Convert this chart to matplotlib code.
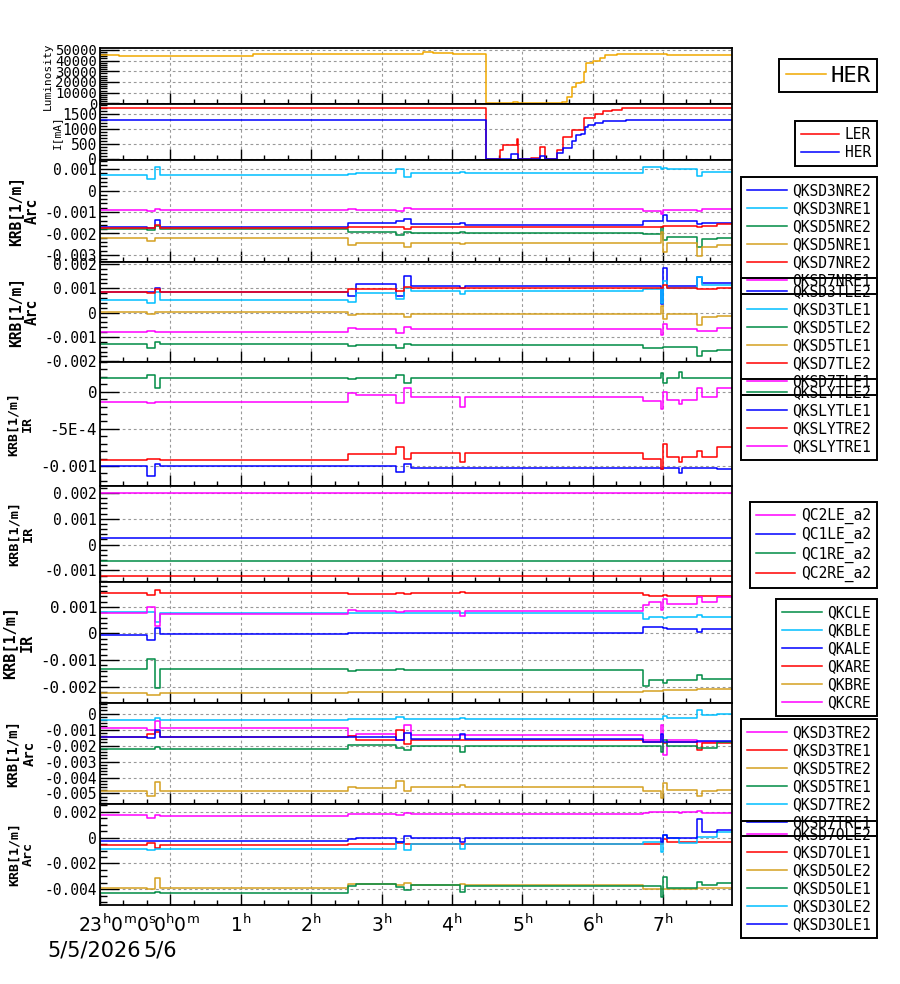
import numpy as np
import matplotlib
matplotlib.use("Agg")
import matplotlib.pyplot as plt
from matplotlib.ticker import AutoMinorLocator, FixedLocator, MultipleLocator
from matplotlib.transforms import blended_transform_factory

plt.rcParams["font.family"] = ["DejaVu Sans Mono"]
plt.rcParams["mathtext.fontset"] = "dejavusans"

# =========================
# DATA  (time: hours from 5/6 0:00, negative = 5/5)
# =========================
T0, T1 = -1.0, 7.98

# luminosity / beam currents
lum_t = [-1.0, -0.73, 1.17, 1.84, 3.59, 3.73, 4.02, 4.48, 4.87, 4.94, 5.56, 5.63, 5.70,
         5.77, 5.84, 5.87, 5.91, 6.01, 6.10, 6.17, 6.34, 6.91, 7.05, 7.98]
lum_v = [45500, 44000, 46000, 46200, 47800, 47100, 46500, 0, 1000, 0, 1500, 6000, 15700,
         18900, 20000, 29800, 37700, 39600, 42500, 45600, 46500, 46000, 45000, 45000]

ler_t = [-1.0, 4.48, 4.68, 4.72, 4.92, 4.94, 5.13, 5.25, 5.32, 5.49, 5.58, 5.70, 5.87,
         6.03, 6.15, 6.27, 6.41, 7.98]
ler_v = [1689, 0, 300, 470, 660, 0, 50, 417, 0, 300, 740, 985, 1382, 1490, 1600, 1623,
         1689, 1689]
her_t = [-1.0, 4.48, 4.84, 4.94, 5.25, 5.32, 5.49, 5.58, 5.70, 5.77, 5.84, 5.89, 5.94,
         6.03, 6.15, 6.48, 7.98]
her_v = [1291, 0, 160, 0, 100, 0, 200, 380, 600, 790, 820, 1075, 1150, 1200, 1260, 1291,
         1291]

# common change times of the skew-quad settings
krb_t = [-1.0, -0.33, -0.22, -0.15, 2.52, 2.64, 3.21, 3.32, 3.42, 4.11, 4.18, 6.72, 6.80,
         6.97, 7.00, 7.06, 7.22, 7.27, 7.48, 7.55, 7.76, 7.98]

# KRB values below in units of 1e-3 [1/m]
QKSD3NRE2 = [-1.68, -1.75, -1.37, -1.68, -1.49, -1.52, -1.40, -1.34, -1.55, -1.50, -1.60,
             -1.40, -1.40, -1.40, -1.13, -1.42, -1.42, -1.42, -1.55, -1.52, -1.52, -1.52]
QKSD3NRE1 = [0.72, 0.55, 1.12, 0.72, 0.79, 0.83, 1.00, 0.62, 0.83, 0.88, 0.83,
             1.08, 1.08, 1.00, 1.05, 1.03, 1.03, 1.03, 0.70, 0.87, 0.87, 0.87]
QKSD5NRE2 = [-1.78, -1.85, -1.65, -1.78, -1.92, -1.92, -2.07, -1.95, -1.97, -1.95, -2.00,
             -2.02, -2.02, -1.72, -2.32, -2.16, -2.16, -2.16, -2.63, -2.25, -2.20, -2.20]
QKSD5NRE1 = [-2.23, -2.36, -2.23, -2.23, -2.55, -2.43, -2.43, -2.65, -2.43, -2.50, -2.43,
             -2.43, -2.43, -1.92, -2.86, -2.43, -2.43, -2.43, -3.05, -2.65, -2.56, -2.56]
QKSD7NRE2 = [-1.73, -1.73, -1.60, -1.73, -1.72, -1.70, -1.70, -1.78, -1.70, -1.70, -1.70,
             -1.70, -1.70, -1.70, -1.66, -1.66, -1.66, -1.66, -1.71, -1.64, -1.58, -1.58]
QKSD7NRE1 = [-0.91, -0.96, -0.88, -0.91, -0.87, -0.90, -0.95, -0.79, -0.87, -0.87, -0.87,
             -0.95, -0.95, -1.08, -0.89, -0.89, -0.89, -0.89, -0.95, -0.87, -0.87, -0.87]

QKSD3TLE2 = [0.84, 0.84, 1.03, 0.84, 0.69, 1.18, 0.68, 1.52, 1.10, 1.02, 1.08,
             1.08, 1.08, 0.37, 1.82, 1.08, 1.08, 1.08, 1.45, 1.20, 1.20, 1.20]
QKSD3TLE1 = [0.50, 0.40, 0.86, 0.50, 0.45, 0.82, 0.55, 1.00, 0.90, 0.75, 0.90,
             0.96, 0.96, 0.40, 1.30, 1.00, 1.00, 1.00, 1.45, 1.12, 1.12, 1.12]
QKSD5TLE2 = [-1.27, -1.47, -1.20, -1.27, -1.38, -1.35, -1.44, -1.27, -1.33, -1.33, -1.33,
             -1.44, -1.44, -1.44, -1.42, -1.42, -1.42, -1.42, -1.79, -1.56, -1.55, -1.55]
QKSD5TLE1 = [0.02, -0.04, 0.02, 0.02, -0.08, -0.04, -0.04, -0.20, -0.05, -0.05, -0.05,
             -0.05, -0.05, 0.26, -0.26, -0.05, -0.05, -0.05, -0.49, -0.20, -0.14, -0.14]
QKSD7TLE2 = [0.84, 0.80, 0.95, 0.84, 0.96, 0.96, 0.90, 1.05, 1.00, 1.00, 1.00,
             1.03, 1.03, 1.03, 1.12, 1.00, 1.00, 1.00, 0.95, 0.95, 1.03, 1.03]
QKSD7TLE1 = [-0.79, -0.76, -0.79, -0.79, -0.62, -0.67, -0.85, -0.60, -0.69, -0.69, -0.69,
             -0.69, -0.69, -0.94, -0.46, -0.69, -0.69, -0.69, -0.75, -0.75, -0.65, -0.65]

QKSLYTLE2 = [0.18, 0.23, 0.05, 0.18, 0.17, 0.18, 0.22, 0.12, 0.18, 0.18, 0.18,
             0.18, 0.18, 0.25, 0.12, 0.18, 0.27, 0.18, 0.18, 0.18, 0.18, 0.18]
QKSLYTLE1 = [-1.00, -1.13, -0.98, -1.00, -1.00, -1.00, -1.08, -0.97, -1.03, -1.03, -1.03,
             -1.03, -1.03, -1.04, -1.03, -1.03, -1.10, -1.03, -1.03, -1.03, -1.04, -1.04]
QKSLYTRE2 = [-0.92, -0.90, -0.90, -0.92, -0.84, -0.84, -0.74, -0.90, -0.83, -0.95, -0.83,
             -0.90, -0.90, -1.04, -0.71, -0.88, -0.95, -0.88, -0.80, -0.88, -0.74, -0.74]
QKSLYTRE1 = [-0.134, -0.15, -0.14, -0.134, -0.02, -0.045, -0.15, 0.045, -0.075, -0.20,
             -0.075, -0.12, -0.12, -0.23, -0.01, -0.11, -0.16, -0.11, 0.045, -0.07, 0.045,
             0.045]

qc_t = [-1.0, 7.98]
QC2LE_a2 = [2.01, 2.01]
QC1LE_a2 = [0.26, 0.26]
QC1RE_a2 = [-0.65, -0.65]
QC2RE_a2 = [-1.22, -1.22]

QKCLE = [-1.32, -0.98, -2.07, -1.32, -1.41, -1.38, -1.35, -1.38, -1.38, -1.38, -1.38,
         -1.99, -1.74, -1.74, -1.86, -1.74, -1.74, -1.74, -1.55, -1.70, -1.72, -1.72]
QKBLE = [0.80, 0.80, 0.42, 0.78, 0.78, 0.78, 0.78, 0.78, 0.78, 0.78, 0.78,
         0.53, 0.63, 0.63, 0.57, 0.63, 0.63, 0.63, 0.68, 0.63, 0.63, 0.63]
QKALE = [-0.04, -0.23, 0.21, -0.03, 0.00, 0.00, 0.00, 0.00, 0.00, 0.00, 0.00,
         0.25, 0.25, 0.25, 0.19, 0.15, 0.15, 0.15, 0.06, 0.15, 0.15, 0.15]
QKARE = [1.51, 1.45, 1.64, 1.51, 1.47, 1.47, 1.51, 1.47, 1.51, 1.55, 1.51,
         1.45, 1.42, 1.42, 1.45, 1.42, 1.42, 1.42, 1.41, 1.41, 1.41, 1.39]
QKBRE = [-2.26, -2.32, -2.30, -2.26, -2.22, -2.22, -2.22, -2.22, -2.22, -2.22, -2.22,
         -2.16, -2.16, -2.16, -2.14, -2.14, -2.14, -2.14, -2.11, -2.11, -2.11, -2.11]
QKCRE = [0.78, 1.00, 0.28, 0.75, 0.88, 0.85, 0.81, 0.85, 0.85, 0.66, 0.85,
         1.07, 1.20, 0.88, 1.30, 1.12, 1.12, 1.12, 1.37, 1.18, 1.37, 1.27]

QKSD3TRE2 = [-0.88, -1.00, -0.47, -0.88, -1.40, -1.26, -1.68, -0.71, -1.36, -1.36, -1.36,
             -1.68, -1.68, -0.73, -2.56, -1.68, -1.68, -1.68, -1.80, -1.75, -1.75, -1.75]
QKSD3TRE1 = [-1.45, -1.30, -1.13, -1.45, -1.40, -1.68, -1.05, -1.89, -1.64, -1.64, -1.64,
             -1.75, -1.75, -1.75, -1.81, -1.78, -1.78, -1.78, -2.30, -1.81, -1.81, -1.81]
QKSD5TRE2 = [-4.82, -5.13, -4.30, -4.82, -4.57, -4.65, -4.23, -4.86, -4.61, -4.45, -4.61,
             -4.82, -4.82, -5.28, -4.32, -4.78, -4.78, -4.78, -5.13, -4.86, -4.78, -4.78]
QKSD5TRE1 = [-2.23, -2.23, -2.06, -2.23, -1.97, -1.97, -2.12, -2.25, -2.02, -2.43, -2.02,
             -2.02, -2.02, -2.43, -1.66, -2.02, -2.02, -2.02, -2.12, -2.12, -1.80, -1.80]
QKSD7TRE2 = [-0.40, -0.40, -0.30, -0.40, -0.31, -0.31, -0.21, -0.31, -0.31, -0.25, -0.31,
             -0.31, -0.31, -0.31, -0.14, -0.27, -0.27, -0.27, 0.21, -0.10, -0.04, -0.04]
QKSD7TRE1 = [-1.43, -1.50, -1.00, -1.43, -1.43, -1.43, -1.64, -1.22, -1.57, -1.26, -1.57,
             -1.78, -1.78, -1.26, -1.78, -1.78, -1.78, -1.78, -1.72, -1.72, -1.72, -1.72]

QKSD7OLE2 = [1.76, 1.50, 1.76, 1.71, 1.81, 1.81, 1.76, 1.88, 1.84, 1.84, 1.84,
             1.88, 1.99, 1.99, 1.99, 1.99, 1.94, 1.99, 2.10, 1.94, 1.94, 1.94]
QKSD7OLE1 = [-0.55, -0.45, -0.83, -0.55, -0.51, -0.51, -0.45, -0.47, -0.47, -0.47, -0.47,
             -0.47, -0.47, -0.47, -0.10, -0.31, -0.31, -0.31, -0.31, -0.31, -0.31, -0.31]
QKSD5OLE2 = [-3.88, -3.95, -3.15, -3.88, -3.62, -3.62, -3.68, -3.55, -3.68, -3.62, -3.68,
             -4.00, -3.98, -3.98, -3.98, -3.98, -3.98, -3.98, -3.93, -3.93, -3.93, -3.93]
QKSD5OLE1 = [-4.31, -4.31, -4.20, -4.31, -3.75, -3.62, -3.80, -4.06, -3.68, -4.20, -3.75,
             -3.75, -3.75, -4.62, -3.03, -3.93, -3.93, -3.93, -3.41, -3.68, -3.50, -3.50]
QKSD3OLE2 = [-0.88, -0.95, -0.88, -0.88, -0.90, -0.88, -0.31, -0.93, -0.47, -0.85, -0.47,
             -0.31, -0.31, -1.08, 0.21, -0.05, -0.38, -0.38, 0.08, 0.08, 0.41, 0.41]
QKSD3OLE1 = [-0.23, -0.23, -0.23, -0.23, -0.08, -0.05, -0.31, 0.16, -0.05, -0.31, -0.05,
             0.00, 0.00, -0.31, 0.21, 0.00, 0.00, 0.00, 1.43, 0.47, 0.60, 0.60]

# x axis labels
hour_ticks = [-1, 0, 1, 2, 3, 4, 5, 6, 7]
hour_labels = [r"$23^{\rm h}0^{\rm m}0^{\rm s}$", r"$0^{\rm h}0^{\rm m}$", r"$1^{\rm h}$",
               r"$2^{\rm h}$", r"$3^{\rm h}$", r"$4^{\rm h}$", r"$5^{\rm h}$",
               r"$6^{\rm h}$", r"$7^{\rm h}$"]
date_labels = ["5/5/2026", "5/6"]

# =========================
# STYLE
# =========================
BLUE, CYAN, GREEN = "#0000ff", "#00bfff", "#008b45"
GOLD, RED, MAG = "#d4a020", "#ff0000", "#ff00ff"
LUMC = "#f0a800"

K = 1e-3
panels = [
    dict(px=(48, 104), ylim=(-600, 51800),
         yt=[0, 10000, 20000, 30000, 40000, 50000],
         ytl=["0", "10000", "20000", "30000", "40000", "50000"],
         ylab="Luminosity", ylx=48, yls=8, bold=False, tfs=10,
         series=[("HER", lum_t, lum_v, LUMC, 1)], lfs=16, lhl=1.8, ltop=59,
         lbp=0.3, ltp=0.2),
    dict(px=(104, 160), ylim=(-25, 1830), yt=[0, 500, 1000, 1500],
         ytl=["0", "500", "1000", "1500"],
         ylab="I[mA]", ylx=57, yls=8, bold=False, tfs=10.5,
         series=[("LER", ler_t, ler_v, RED, 1), ("HER", her_t, her_v, BLUE, 1)],
         lfs=10.5, lhl=2.6, ltop=121),
    dict(px=(160, 262), ylim=(-3.33e-3, 1.43e-3),
         yt=[1e-3, 0, -1e-3, -2e-3, -3e-3],
         ytl=["0.001", "0", "-0.001", "-0.002", "-0.003"],
         ylab="KRB[1/m]\nArc", ylx=24, yls=10.5, bold=True, tfs=10.5,
         series=[("QKSD3NRE2", krb_t, QKSD3NRE2, BLUE, K),
                 ("QKSD3NRE1", krb_t, QKSD3NRE1, CYAN, K),
                 ("QKSD5NRE2", krb_t, QKSD5NRE2, GREEN, K),
                 ("QKSD5NRE1", krb_t, QKSD5NRE1, GOLD, K),
                 ("QKSD7NRE2", krb_t, QKSD7NRE2, RED, K),
                 ("QKSD7NRE1", krb_t, QKSD7NRE1, MAG, K)],
         lfs=10.5, lhl=2.7, ltop=177),
    dict(px=(262, 362), ylim=(-2.03e-3, 2.08e-3),
         yt=[2e-3, 1e-3, 0, -1e-3, -2e-3],
         ytl=["0.002", "0.001", "0", "-0.001", "-0.002"],
         ylab="KRB[1/m]\nArc", ylx=24, yls=10.5, bold=True, tfs=10.5,
         series=[("QKSD3TLE2", krb_t, QKSD3TLE2, BLUE, K),
                 ("QKSD3TLE1", krb_t, QKSD3TLE1, CYAN, K),
                 ("QKSD5TLE2", krb_t, QKSD5TLE2, GREEN, K),
                 ("QKSD5TLE1", krb_t, QKSD5TLE1, GOLD, K),
                 ("QKSD7TLE2", krb_t, QKSD7TLE2, RED, K),
                 ("QKSD7TLE1", krb_t, QKSD7TLE1, MAG, K)],
         lfs=10.5, lhl=2.7, ltop=278),
    dict(px=(362, 486), ylim=(-1.27e-3, 0.40e-3),
         yt=[0, -5e-4, -1e-3], ytl=["0", "-5E-4", "-0.001"],
         ylab="KRB[1/m]\nIR", ylx=20, yls=9.5, bold=True, tfs=11.4,
         series=[("QKSLYTLE2", krb_t, QKSLYTLE2, GREEN, K),
                 ("QKSLYTLE1", krb_t, QKSLYTLE1, BLUE, K),
                 ("QKSLYTRE2", krb_t, QKSLYTRE2, RED, K),
                 ("QKSLYTRE1", krb_t, QKSLYTRE1, MAG, K)],
         lfs=10.5, lhl=2.7, ltop=379),
    dict(px=(486, 582), ylim=(-1.45e-3, 2.27e-3),
         yt=[2e-3, 1e-3, 0, -1e-3], ytl=["0.002", "0.001", "0", "-0.001"],
         ylab="KRB[1/m]\nIR", ylx=21, yls=9.7, bold=True, tfs=10.5,
         series=[("QC2LE_a2", qc_t, QC2LE_a2, MAG, K),
                 ("QC1LE_a2", qc_t, QC1LE_a2, BLUE, K),
                 ("QC1RE_a2", qc_t, QC1RE_a2, GREEN, K),
                 ("QC2RE_a2", qc_t, QC2RE_a2, RED, K)],
         lfs=10.5, lhl=2.7, ltop=502),
    dict(px=(582, 703), ylim=(-2.62e-3, 1.94e-3),
         yt=[1e-3, 0, -1e-3, -2e-3], ytl=["0.001", "0", "-0.001", "-0.002"],
         ylab="KRB[1/m]\nIR", ylx=18.5, yls=10.9, bold=True, tfs=11.4,
         series=[("QKCLE", krb_t, QKCLE, GREEN, K),
                 ("QKBLE", krb_t, QKBLE, CYAN, K),
                 ("QKALE", krb_t, QKALE, BLUE, K),
                 ("QKARE", krb_t, QKARE, RED, K),
                 ("QKBRE", krb_t, QKBRE, GOLD, K),
                 ("QKCRE", krb_t, QKCRE, MAG, K)],
         lfs=10.5, lhl=2.7, ltop=599),
    dict(px=(703, 804), ylim=(-5.66e-3, 0.67e-3),
         yt=[0, -1e-3, -2e-3, -3e-3, -4e-3, -5e-3],
         ytl=["0", "-0.001", "-0.002", "-0.003", "-0.004", "-0.005"],
         ylab="KRB[1/m]\nArc", ylx=21.5, yls=10, bold=True, tfs=10.5,
         series=[("QKSD3TRE2", krb_t, QKSD3TRE2, MAG, K),
                 ("QKSD3TRE1", krb_t, QKSD3TRE1, RED, K),
                 ("QKSD5TRE2", krb_t, QKSD5TRE2, GOLD, K),
                 ("QKSD5TRE1", krb_t, QKSD5TRE1, GREEN, K),
                 ("QKSD7TRE2", krb_t, QKSD7TRE2, CYAN, K),
                 ("QKSD7TRE1", krb_t, QKSD7TRE1, BLUE, K)],
         lfs=10.5, lhl=2.7, ltop=719),
    dict(px=(804, 905), ylim=(-5.22e-3, 2.61e-3),
         yt=[2e-3, 0, -2e-3, -4e-3], ytl=["0.002", "0", "-0.002", "-0.004"],
         ylab="KRB[1/m]\nArc", ylx=21.5, yls=9.5, bold=True, tfs=10.5,
         series=[("QKSD7OLE2", krb_t, QKSD7OLE2, MAG, K),
                 ("QKSD7OLE1", krb_t, QKSD7OLE1, RED, K),
                 ("QKSD5OLE2", krb_t, QKSD5OLE2, GOLD, K),
                 ("QKSD5OLE1", krb_t, QKSD5OLE1, GREEN, K),
                 ("QKSD3OLE2", krb_t, QKSD3OLE2, CYAN, K),
                 ("QKSD3OLE1", krb_t, QKSD3OLE1, BLUE, K)],
         lfs=10.5, lhl=2.7, ltop=821),
]

# =========================
# FIGURE
# =========================
W, H = 900, 984
AX_L, AX_R = 100, 732
fig = plt.figure(figsize=(W / 100, H / 100), dpi=100)

axes = []
for p in panels:
    top, bot = p["px"]
    ax = fig.add_axes([AX_L / W, 1 - bot / H, (AX_R - AX_L) / W, (bot - top) / H])
    for name, t, v, c, sc in p["series"]:
        ax.step(t, np.asarray(v) * sc, where="post", color=c, lw=1.1, label=name)

    ax.set_xlim(T0, T1)
    ax.set_ylim(*p["ylim"])
    ax.xaxis.set_major_locator(FixedLocator(hour_ticks))
    ax.xaxis.set_minor_locator(MultipleLocator(1 / 3))
    ax.yaxis.set_major_locator(FixedLocator(p["yt"]))
    ax.set_yticklabels(p["ytl"], fontsize=p["tfs"])
    ax.yaxis.set_minor_locator(AutoMinorLocator())

    ax.grid(True, which="major", color="#999999", ls=(0, (2.5, 2.5)), lw=0.8)
    ax.tick_params(axis="y", which="major", direction="in", length=14, width=1, pad=2)
    ax.tick_params(axis="y", which="minor", direction="in", length=5, width=1)
    ax.tick_params(axis="x", which="major", direction="in", length=8, width=1,
                   labelbottom=False)
    ax.tick_params(axis="x", which="minor", direction="in", length=3.5, width=1)
    for s in ax.spines.values():
        s.set_linewidth(1.3)

    ax.text((p["ylx"] - AX_L) / (AX_R - AX_L), 0.5, p["ylab"], transform=ax.transAxes,
            rotation=90, ha="center", va="center", fontsize=p["yls"],
            fontweight="bold" if p["bold"] else "normal", linespacing=1.15)

    leg = ax.legend(loc="upper right", bbox_to_anchor=(877 / W, 1 - p["ltop"] / H),
                    bbox_transform=fig.transFigure, borderaxespad=0, fontsize=p["lfs"],
                    handlelength=p["lhl"], handletextpad=p.get("ltp", 0.4),
                    borderpad=p.get("lbp", 0.4), labelspacing=0.21,
                    fancybox=False, framealpha=1, facecolor="none", edgecolor="black")
    leg.get_frame().set_linewidth(1.4)
    axes.append(ax)

# bottom axis labels
ax = axes[-1]
trans = blended_transform_factory(ax.transData, ax.transAxes)
px_per_h = (AX_R - AX_L) / (T1 - T0)
label_shift_px = [17, 6, 0, 0, 0, 0, 0, 0, 0]
for h, lab, dx in zip(hour_ticks, hour_labels, label_shift_px):
    ax.text(h + dx / px_per_h, -0.27, lab, transform=trans, ha="center", va="baseline",
            fontsize=13.5, family="DejaVu Sans", clip_on=False)
date_shift_px = [-6, -10]
for h, lab, dx in zip(hour_ticks[:2], date_labels, date_shift_px):
    ax.text(h + dx / px_per_h, -0.505, lab, transform=trans, ha="center", va="baseline",
            fontsize=15, family="DejaVu Sans", clip_on=False)

fig.savefig("out.png", dpi=100)
